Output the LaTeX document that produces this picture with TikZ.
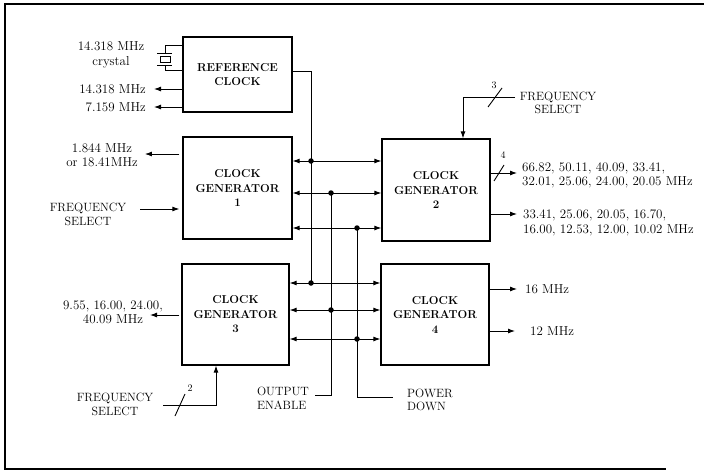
\documentclass[tikz,border=0pt]{standalone}
\usetikzlibrary{arrows.meta}
\begin{document}
\begin{tikzpicture}[x=1pt,y=-1pt,
  box/.style={draw, line width=1.3pt, inner sep=0, align=center, font=\fontsize{11.5}{14.5}\selectfont\bfseries},
  wire/.style={line width=0.9pt},
  arr/.style={wire, -{Latex[length=7pt,width=5pt]}},
  darr/.style={wire, {Latex[length=7pt,width=5pt]}-{Latex[length=7pt,width=5pt]}},
  jdot/.style={circle, fill, inner sep=0, minimum size=5.5pt},
  lbl/.style={inner sep=0, align=center, font=\fontsize{13}{14.5}\selectfont},
  captxt/.style={inner sep=0, align=center, font=\fontsize{12}{13.5}\selectfont},
  num/.style={inner sep=0, font=\fontsize{10}{12}\selectfont},
]
\useasboundingbox (0,0) rectangle (704,474);
\draw[line width=1.3pt] (704,4) -- (5,4) -- (5,469) -- (666,469);

% blocks
\node[box, minimum width=109pt, minimum height=75pt] (ref) at (237.5,74.5) {REFERENCE\\CLOCK};
\node[box, minimum width=109pt, minimum height=102pt] (g1) at (237.5,188) {CLOCK\\GENERATOR\\1};
\node[box, minimum width=108pt, minimum height=102pt] (g2) at (436,190) {CLOCK\\GENERATOR\\2};
\node[box, minimum width=107pt, minimum height=101pt] (g3) at (235.5,314.5) {CLOCK\\GENERATOR\\3};
\node[box, minimum width=108pt, minimum height=101pt] (g4) at (435,314.5) {CLOCK\\GENERATOR\\4};

% bus junctions
\coordinate (ja) at (311,161);
\coordinate (jb) at (331,193);
\coordinate (jc) at (357,228);
\coordinate (jd) at (311,283);
\coordinate (je) at (331,310);
\coordinate (jf) at (357,339);
\coordinate (rout) at (311,71);

\draw[darr] (g1.east |- ja) -- (g2.west |- ja);
\draw[darr] (g1.east |- jb) -- (g2.west |- jb);
\draw[darr] (g1.east |- jc) -- (g2.west |- jc);
\draw[darr] (g3.east |- jd) -- (g4.west |- jd);
\draw[darr] (g3.east |- je) -- (g4.west |- je);
\draw[darr] (g3.east |- jf) -- (g4.west |- jf);

\draw[wire] (ref.east |- rout) -- (rout) -- (jd);

% output enable
\node[captxt, anchor=east, align=left] (oel) at (309,398.5) {OUTPUT\\ENABLE};
\coordinate (oee) at (315,395);
\draw[wire] (jb) -- (jb |- oee) -- (oee);

% power down
\node[captxt, anchor=west, align=left] (pdl) at (407,400) {POWER\\DOWN};
\coordinate (pde) at (393,397);
\draw[wire] (jc) -- (jc |- pde) -- (pde);

\foreach \c in {ja,jb,jc,jd,je,jf} \node[jdot] (d\c) at (\c) {};

% crystal
\draw[wire] (ref.west |- 0,45) -- (165,45) -- (165,53);
\draw[wire] (157,53) -- (172,53);
\draw[wire] (160,56) rectangle (170,62);
\draw[wire] (157,65) -- (172,65);
\draw[wire] (165,65) -- (165,70) -- (ref.west |- 0,70);
\node[lbl] (xl) at (111,55) {14.318 MHz\\crystal};

% reference outputs
\node[lbl, anchor=east] (o14) at (146,89) {14.318 MHz};
\draw[arr] (ref.west |- o14) -- ([xshift=8pt]o14.east);
\node[lbl, anchor=east] (o7) at (146,107) {7.159 MHz};
\draw[arr] (ref.west |- o7) -- ([xshift=8pt]o7.east);

% generator 1
\node[lbl] (g1o) at (102,155) {1.844 MHz\\or 18.41MHz};
\draw[arr] ([xshift=-3pt]g1.west |- 0,154) -- ([xshift=7pt]g1o.east |- 0,154);
\node[captxt] (fs1) at (88,214.5) {FREQUENCY\\SELECT};
\draw[arr] ([xshift=14pt]fs1.east |- 0,209) -- ([xshift=-3pt]g1.west |- 0,209);

% generator 3
\node[lbl] (g3o) at (113,312) {9.55, 16.00, 24.00,\\40.09 MHz};
\coordinate (g3t) at (150,315);
\draw[arr] ([xshift=-2pt]g3.west |- g3t) -- (g3t);
\node[captxt] (fs3) at (115,404.5) {FREQUENCY\\SELECT};
\coordinate (fs3a) at (163,405);
\coordinate (fs3b) at (216,405);
\draw[arr] (fs3a) -- (fs3b) -- (g3.south -| fs3b);
\draw[wire] (175,416) -- (185,394);
\node[num] (n2) at (190,388) {2};

% generator 2
\node[captxt] (fs2) at (558,103) {FREQUENCY\\SELECT};
\coordinate (fs2a) at (515,97);
\coordinate (fs2b) at (463,97);
\draw[arr] (fs2a) -- (fs2b) -- (g2.north -| fs2b);
\draw[wire] (488,107) -- (502,88);
\node[num] (n3) at (494,85) {3};

\node[lbl, anchor=west, align=left] (o2a) at (522,175.5) {66.82, 50.11, 40.09, 33.41,\\32.01, 25.06, 24.00, 20.05 MHz};
\draw[arr] (g2.east |- 0,173) -- ([xshift=-5pt]o2a.west |- 0,173);
\draw[wire] (494,181) -- (504,165);
\node[num] (n4) at (503,155) {4};
\node[lbl, anchor=west, align=left] (o2b) at (523,223) {33.41, 25.06, 20.05, 16.70,\\16.00, 12.53, 12.00, 10.02 MHz};
\draw[arr] (g2.east |- 0,214) -- ([xshift=-6pt]o2b.west |- 0,214);

% generator 4
\node[lbl, anchor=west] (o16) at (525,289) {16 MHz};
\draw[arr] (g4.east |- o16) -- ([xshift=-8pt]o16.west);
\node[lbl, anchor=west] (o12) at (530,331) {12 MHz};
\draw[arr] (g4.east |- o12) -- ([xshift=-15pt]o12.west);
\end{tikzpicture}
\end{document}
